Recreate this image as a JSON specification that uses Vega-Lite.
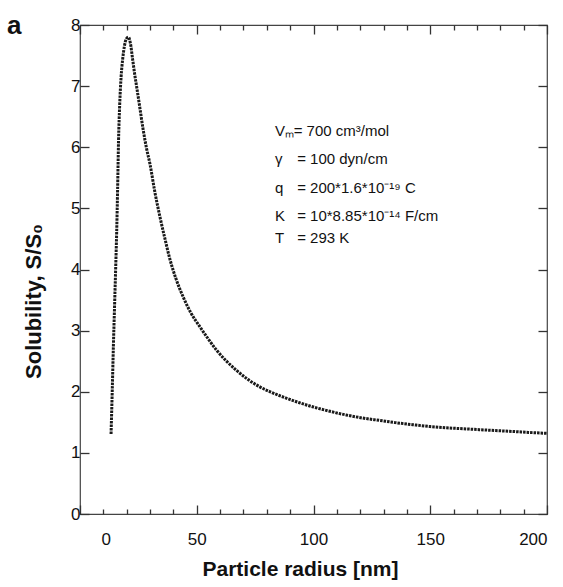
{
  "$schema": "https://vega.github.io/schema/vega-lite/v6.json",
  "width": 467,
  "height": 489,
  "autosize": "none",
  "padding": {"left": 80, "top": 25, "right": 16, "bottom": 73},
  "background": "white",
  "title": {"text": "a", "anchor": "start", "frame": "group", "fontSize": 26, "fontWeight": "bold", "font": "Liberation Sans", "color": "#111", "baseline": "alphabetic", "offset": 0, "dx": -73, "dy": 44},
  "config": {
    "font": "Liberation Sans",
    "view": {"stroke": "#444", "strokeWidth": 1.2},
    "axis": {"domain": false, "grid": false, "tickColor": "#333", "tickWidth": 1.3, "labelColor": "#111", "titleColor": "#111", "labelFont": "Liberation Sans", "titleFont": "Liberation Sans"}
  },
  "datasets": {
    "curve": [
      {"r": 13.3, "s": 1.31}, {"r": 13.8, "s": 2.0}, {"r": 14.3, "s": 2.75}, {"r": 14.8, "s": 3.4},
      {"r": 15.3, "s": 4.05}, {"r": 15.7, "s": 4.6}, {"r": 16.1, "s": 5.3}, {"r": 16.5, "s": 6.1},
      {"r": 17.0, "s": 6.7}, {"r": 17.6, "s": 7.15}, {"r": 18.3, "s": 7.45}, {"r": 19.0, "s": 7.65},
      {"r": 19.8, "s": 7.77}, {"r": 20.7, "s": 7.8}, {"r": 21.6, "s": 7.7}, {"r": 22.5, "s": 7.45},
      {"r": 23.4, "s": 7.2}, {"r": 24.3, "s": 6.98}, {"r": 25.5, "s": 6.68}, {"r": 27, "s": 6.3},
      {"r": 28.5, "s": 5.98}, {"r": 30, "s": 5.72}, {"r": 32, "s": 5.28}, {"r": 34.3, "s": 4.85},
      {"r": 36.4, "s": 4.5}, {"r": 38.5, "s": 4.17}, {"r": 41, "s": 3.86}, {"r": 44.2, "s": 3.55},
      {"r": 47.5, "s": 3.29}, {"r": 51.4, "s": 3.06}, {"r": 55, "s": 2.86}, {"r": 58.5, "s": 2.68},
      {"r": 62.5, "s": 2.51}, {"r": 67, "s": 2.35}, {"r": 72, "s": 2.2}, {"r": 77, "s": 2.08},
      {"r": 82, "s": 1.99}, {"r": 88, "s": 1.9}, {"r": 94, "s": 1.82}, {"r": 100, "s": 1.75},
      {"r": 107, "s": 1.68}, {"r": 114, "s": 1.62}, {"r": 121, "s": 1.57}, {"r": 128.5, "s": 1.53},
      {"r": 135, "s": 1.495}, {"r": 142.7, "s": 1.46}, {"r": 150, "s": 1.43}, {"r": 157, "s": 1.41},
      {"r": 164, "s": 1.395}, {"r": 171, "s": 1.38}, {"r": 178, "s": 1.365}, {"r": 185.6, "s": 1.35},
      {"r": 192, "s": 1.335}, {"r": 200, "s": 1.32}
    ],
    "notes": [
      {"x": 83.5, "y": 6.27, "label": "Vₘ"},
      {"x": 91.5, "y": 6.27, "label": "= 700 cm³/mol"},
      {"x": 83.5, "y": 5.80, "label": "γ"},
      {"x": 93, "y": 5.80, "label": "= 100 dyn/cm"},
      {"x": 83.5, "y": 5.33, "label": "q"},
      {"x": 93, "y": 5.33, "label": "= 200*1.6*10⁻¹⁹ C"},
      {"x": 83.5, "y": 4.87, "label": "K"},
      {"x": 93, "y": 4.87, "label": "= 10*8.85*10⁻¹⁴ F/cm"},
      {"x": 83.5, "y": 4.52, "label": "T"},
      {"x": 93, "y": 4.52, "label": "= 293 K"}
    ]
  },
  "layer": [
    {
      "data": {"name": "curve"},
      "mark": {"type": "line", "color": "#1a1a1a", "strokeWidth": 3, "strokeDash": [2.5, 1], "interpolate": "monotone"},
      "encoding": {
        "x": {"field": "r", "type": "quantitative", "scale": {"domain": [0, 200], "nice": false, "zero": false},
          "axis": {"orient": "bottom", "values": [0,10,20,30,40,50,60,70,80,90,100,110,120,130,140,150,160,170,180,190,200],
            "labelExpr": "datum.value % 50 === 0 ? datum.label : ''",
            "tickSize": {"condition": {"test": "datum.value % 50 === 0", "value": -9}, "value": -5},
            "labelOffset": {"condition": {"test": "datum.value === 0", "value": 21}, "value": 0},
            "labelFontSize": 17, "labelBaseline": "alphabetic", "labelPadding": 39,
            "title": "Particle radius [nm]", "titleFontSize": 21, "titleFontWeight": "bold",
            "titleX": 220, "titleY": 61, "titleBaseline": "alphabetic"}},
        "y": {"field": "s", "type": "quantitative", "scale": {"domain": [0, 8], "nice": false, "zero": false},
          "axis": {"orient": "left", "values": [0,1,2,3,4,5,6,7,8], "tickSize": -9,
            "labelFontSize": 17, "labelPadding": 9, "labelBaseline": "middle",
            "title": "Solubility, S/S₀", "titleFontSize": 22, "titleFontWeight": "bold",
            "titleX": -47, "titleY": 276, "titleBaseline": "middle"}}
      }
    },
    {
      "data": {"name": "curve"},
      "mark": {"type": "point", "opacity": 0},
      "encoding": {
        "x": {"field": "r", "type": "quantitative",
          "axis": {"orient": "top", "values": [0,10,20,30,40,50,60,70,80,90,100,110,120,130,140,150,160,170,180,190,200],
            "labels": false, "title": null,
            "tickSize": {"condition": {"test": "datum.value % 50 === 0", "value": -9}, "value": -5}}},
        "y": {"field": "s", "type": "quantitative",
          "axis": {"orient": "right", "values": [0,1,2,3,4,5,6,7,8], "labels": false, "title": null, "tickSize": -9}}
      }
    },
    {
      "data": {"name": "notes"},
      "mark": {"type": "text", "align": "left", "baseline": "middle", "fontSize": 15, "color": "#111", "font": "Liberation Sans"},
      "encoding": {
        "x": {"field": "x", "type": "quantitative", "axis": null},
        "y": {"field": "y", "type": "quantitative", "axis": null},
        "text": {"field": "label"}
      }
    }
  ],
  "resolve": {"axis": {"x": "independent", "y": "independent"}}
}
